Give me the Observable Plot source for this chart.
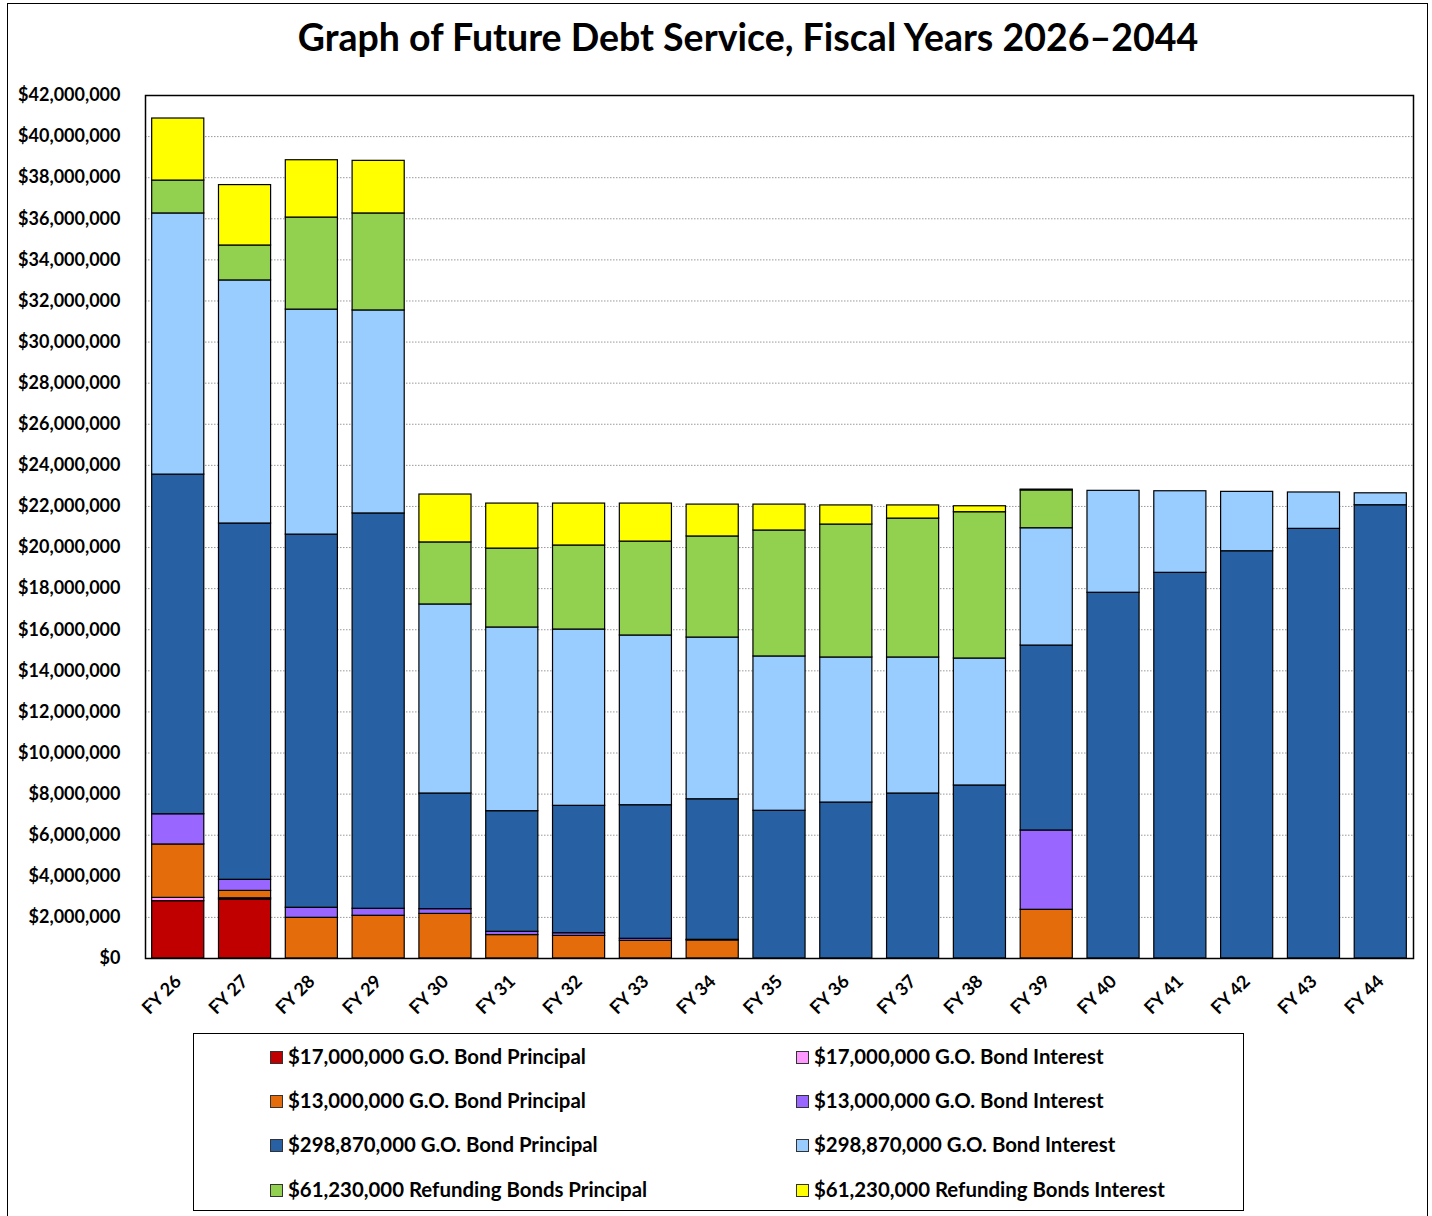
<!DOCTYPE html>
<html>
<head>
<meta charset="utf-8">
<script src="https://cdn.jsdelivr.net/npm/d3@7"></script>
<script src="https://cdn.jsdelivr.net/npm/@observablehq/plot@0.6"></script>
<style>
  body { margin:0; background:#fff; font-family: Lato, "Open Sans", sans-serif; font-weight:bold; }
  #border { position:absolute; left:7px; top:3px; width:1421px; height:1260px; border:1.5px solid #000; box-sizing:border-box; }
  #title { position:absolute; left:0; top:14px; width:1496px; text-align:center; font-size:37.5px; line-height:46px; color:#000; }
  #chart { position:absolute; left:0; top:70px; }
  #legend { position:absolute; left:193px; top:1033px; width:1051px; height:178px; border:1.5px solid #000; box-sizing:border-box; background:#fff; }
  .item { position:absolute; height:24px; line-height:24px; font-size:20.4px; white-space:nowrap; }
  .sw { display:inline-block; width:11px; height:11px; border:1px solid #333; margin-right:5px; vertical-align:0px; }
</style>
</head>
<body>
<div id="border"></div>
<div id="title">Graph of Future Debt Service, Fiscal Years 2026–2044</div>
<div id="chart"></div>
<div id="legend"></div>
<script>
const categories = ["FY 26","FY 27","FY 28","FY 29","FY 30","FY 31","FY 32","FY 33","FY 34","FY 35","FY 36","FY 37","FY 38","FY 39","FY 40","FY 41","FY 42","FY 43","FY 44"];

const seriesNames = [
  "$17,000,000 G.O. Bond Principal",
  "$17,000,000 G.O. Bond Interest",
  "$13,000,000 G.O. Bond Principal",
  "$13,000,000 G.O. Bond Interest",
  "$298,870,000 G.O. Bond Principal",
  "$298,870,000 G.O. Bond Interest",
  "$61,230,000 Refunding Bonds Principal",
  "$61,230,000 Refunding Bonds Interest"
];
const seriesColors = ["#C00000","#FF99FF","#E46C0A","#9966FF","#2760A3","#99CCFF","#92D050","#FFFF00"];

// values in dollars, one per fiscal year
const bond17Principal  = [2790000,2870000,0,0,0,0,0,0,0,0,0,0,0,0,0,0,0,0,0];
const bond17Interest   = [160000,60000,0,0,0,0,0,0,0,0,0,0,0,0,0,0,0,0,0];
const bond13Principal  = [2600000,360000,1980000,2080000,2170000,1140000,1100000,860000,880000,0,0,0,0,2370000,0,0,0,0,0];
const bond13Interest   = [1470000,540000,490000,340000,230000,160000,130000,100000,30000,0,0,0,0,3860000,0,0,0,0,0];
const bond298Principal = [16530000,17340000,18160000,19240000,5630000,5870000,6200000,6500000,6840000,7190000,7590000,8030000,8420000,9000000,17800000,18770000,19820000,20910000,22060000];
const bond298Interest  = [12710000,11830000,10950000,9880000,9200000,8940000,8580000,8260000,7870000,7510000,7060000,6620000,6180000,5710000,4960000,3970000,2890000,1770000,580000];
const refund61Principal= [1600000,1700000,4480000,4720000,3020000,3840000,4090000,4570000,4920000,6130000,6470000,6760000,7120000,1840000,0,0,0,0,0];
const refund61Interest = [3020000,2940000,2790000,2560000,2330000,2190000,2040000,1850000,1550000,1260000,930000,640000,290000,40000,0,0,0,0,0];

const yTicks = d3.range(0, 42000001, 2000000);

const seriesValues = [bond17Principal,bond17Interest,bond13Principal,bond13Interest,bond298Principal,bond298Interest,refund61Principal,refund61Interest];
const rows = categories.flatMap((c,i) => seriesNames.map((s,j) => ({fy:c, series:s, value:seriesValues[j][i]}))).filter(d => d.value > 0);

const chart = Plot.plot({
  width: 1432,
  height: 960,
  marginTop: 25,
  marginBottom: 72,
  marginLeft: 145,
  marginRight: 19,
  style: {fontFamily: "Lato, 'Open Sans', sans-serif", fontWeight: "bold", fontSize: "18px", color: "#000", background: "transparent"},
  x: {type: "band", domain: categories, paddingInner: 0.22, paddingOuter: 0.1, round: false, label: null},
  y: {domain: [0, 42000000], label: null},
  color: {domain: seriesNames, range: seriesColors},
  marks: [
    Plot.gridY(yTicks, {stroke: "#999", strokeOpacity: 1, strokeDasharray: "1.5,1.5"}),
    Plot.barY(rows, {x: "fy", y: "value", z: "series", fill: "series", order: seriesNames, stroke: "#000", strokeWidth: 1.2}),
    Plot.frame({stroke: "#000", strokeWidth: 1.5}),
    Plot.axisY(yTicks, {tickSize: 0, tickPadding: 25, fontSize: 18, tickFormat: d => "$" + d3.format(",")(d), label: null}),
    Plot.axisX({tickSize: 0, tickPadding: 20, fontSize: 18, tickRotate: -45, label: null})
  ]
});
document.getElementById("chart").appendChild(chart);

const legend = document.getElementById("legend");
const leftX = 76, rightX = 602, rowY = [10, 54, 98, 143];
seriesNames.forEach((s, j) => {
  const col = j % 2, row = Math.floor(j / 2);
  const el = document.createElement("div");
  el.className = "item";
  el.style.left = (col === 0 ? leftX : rightX) + "px";
  el.style.top = rowY[row] + "px";
  el.innerHTML = `<span class="sw" style="background:${seriesColors[j]}"></span>${s}`;
  legend.appendChild(el);
});
</script>
</body>
</html>
